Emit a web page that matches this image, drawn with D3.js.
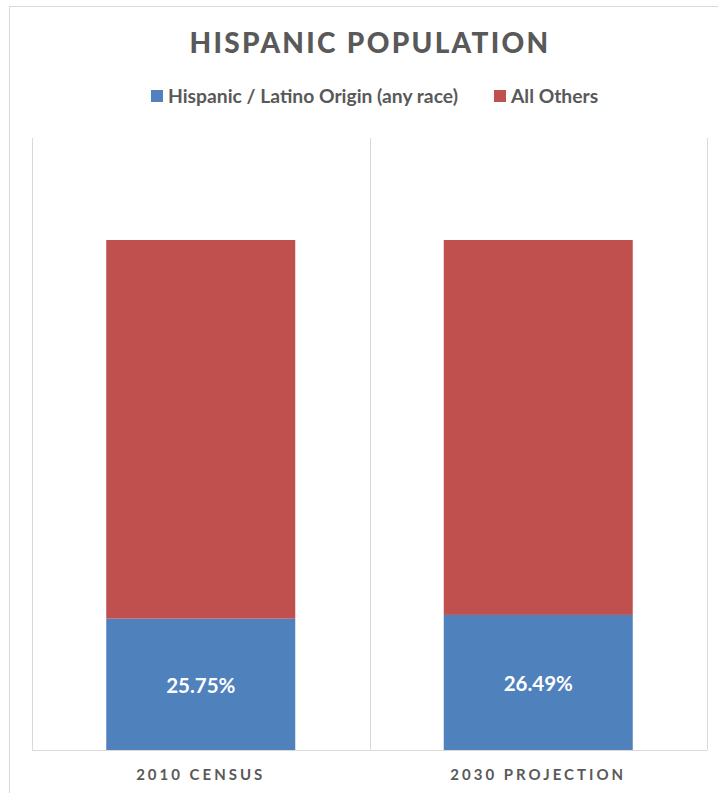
<!DOCTYPE html>
<html>
<head>
<meta charset="utf-8">
<script src="https://cdn.jsdelivr.net/npm/d3@7"></script>
<style>
  html, body { margin: 0; padding: 0; background: #fff; }
  svg { display: block; }
  text { font-family: "Lato", "Open Sans", sans-serif; }
</style>
</head>
<body>
<svg id="chart" width="718" height="793"></svg>
<script>
// Share of population, stacked to 100% per period
const categories = ["2010 CENSUS", "2030 PROJECTION"];
const seriesNames = ["Hispanic / Latino Origin (any race)", "All Others"];
const hispanic = [0.2575, 0.2649];
const allOthers = [0.7425, 0.7351];
const colors = ["#4F81BD", "#C0504D"];

const W = 718, H = 793;
const svg = d3.select("#chart");

// chart frame
svg.append("rect")
  .attr("x", 9.5).attr("y", 6.5)
  .attr("width", W + 10).attr("height", H + 10)
  .attr("fill", "#fff").attr("stroke", "#d9d9d9").attr("stroke-width", 1);

const plot = { left: 32, right: 707, top: 138, bottom: 750 };

const x = d3.scaleBand()
  .domain(categories)
  .range([plot.left, plot.right])
  .paddingInner(0.44).paddingOuter(0.22);

const y = d3.scaleLinear()
  .domain([0, 1.2])
  .range([plot.bottom, plot.top]);

// vertical category gridlines
const band = d3.scaleBand().domain(categories).range([plot.left, plot.right]);
const gridX = categories.map(c => band(c)).concat([plot.right]);
svg.append("g").selectAll("line")
  .data(gridX)
  .join("line")
  .attr("x1", d => Math.round(d) + 0.5).attr("x2", d => Math.round(d) + 0.5)
  .attr("y1", plot.top).attr("y2", plot.bottom)
  .attr("stroke", "#d9d9d9").attr("stroke-width", 1);

// stacked bars
const rows = categories.map((c, i) => ({ cat: c, h: hispanic[i], o: allOthers[i] }));
const stack = d3.stack().keys(["h", "o"])(rows);

svg.append("g").selectAll("g")
  .data(stack)
  .join("g")
  .attr("fill", (d, i) => colors[i])
  .selectAll("rect")
  .data(d => d)
  .join("rect")
  .attr("x", d => x(d.data.cat))
  .attr("width", x.bandwidth())
  .attr("y", d => y(d[1]))
  .attr("height", d => y(d[0]) - y(d[1]));

// baseline
svg.append("line")
  .attr("x1", plot.left).attr("x2", plot.right)
  .attr("y1", plot.bottom + 0.5).attr("y2", plot.bottom + 0.5)
  .attr("stroke", "#d9d9d9").attr("stroke-width", 1);

// value labels inside Hispanic segment
svg.append("g").selectAll("text")
  .data(stack[0])
  .join("text")
  .attr("x", d => x(d.data.cat) + x.bandwidth() / 2)
  .attr("y", d => (y(d[0]) + y(d[1])) / 2 + 1)
  .attr("dy", "0.35em")
  .attr("text-anchor", "middle")
  .attr("fill", "#fff")
  .attr("font-weight", "bold")
  .attr("font-size", 20.5)
  .text(d => (d.data.h * 100).toFixed(2) + "%");

// category axis
const xAxis = svg.append("g")
  .attr("transform", `translate(0,${plot.bottom})`)
  .call(d3.axisBottom(band).tickSize(0).tickPadding(19));
xAxis.select(".domain").remove();
xAxis.selectAll("text")
  .attr("fill", "#595959")
  .attr("font-size", 15)
  .attr("font-weight", "bold")
  .attr("letter-spacing", "3px")
  .attr("font-family", "Lato, sans-serif");

// title
svg.append("text")
  .attr("x", 370).attr("y", 53)
  .attr("text-anchor", "middle")
  .attr("fill", "#595959")
  .attr("font-size", 28)
  .attr("font-weight", "900")
  .attr("letter-spacing", "2.3px")
  .text("HISPANIC POPULATION");

// legend
const legendX = [151, 494];
const legend = svg.append("g").selectAll("g")
  .data(seriesNames)
  .join("g")
  .attr("transform", (d, i) => `translate(${legendX[i]},90)`);
legend.append("rect")
  .attr("width", 12).attr("height", 12)
  .attr("fill", (d, i) => colors[i]);
legend.append("text")
  .attr("x", 17).attr("y", 6).attr("dy", "0.35em")
  .attr("fill", "#595959")
  .attr("font-size", 19.3)
  .attr("font-weight", "bold")
  .text(d => d);
</script>
</body>
</html>
